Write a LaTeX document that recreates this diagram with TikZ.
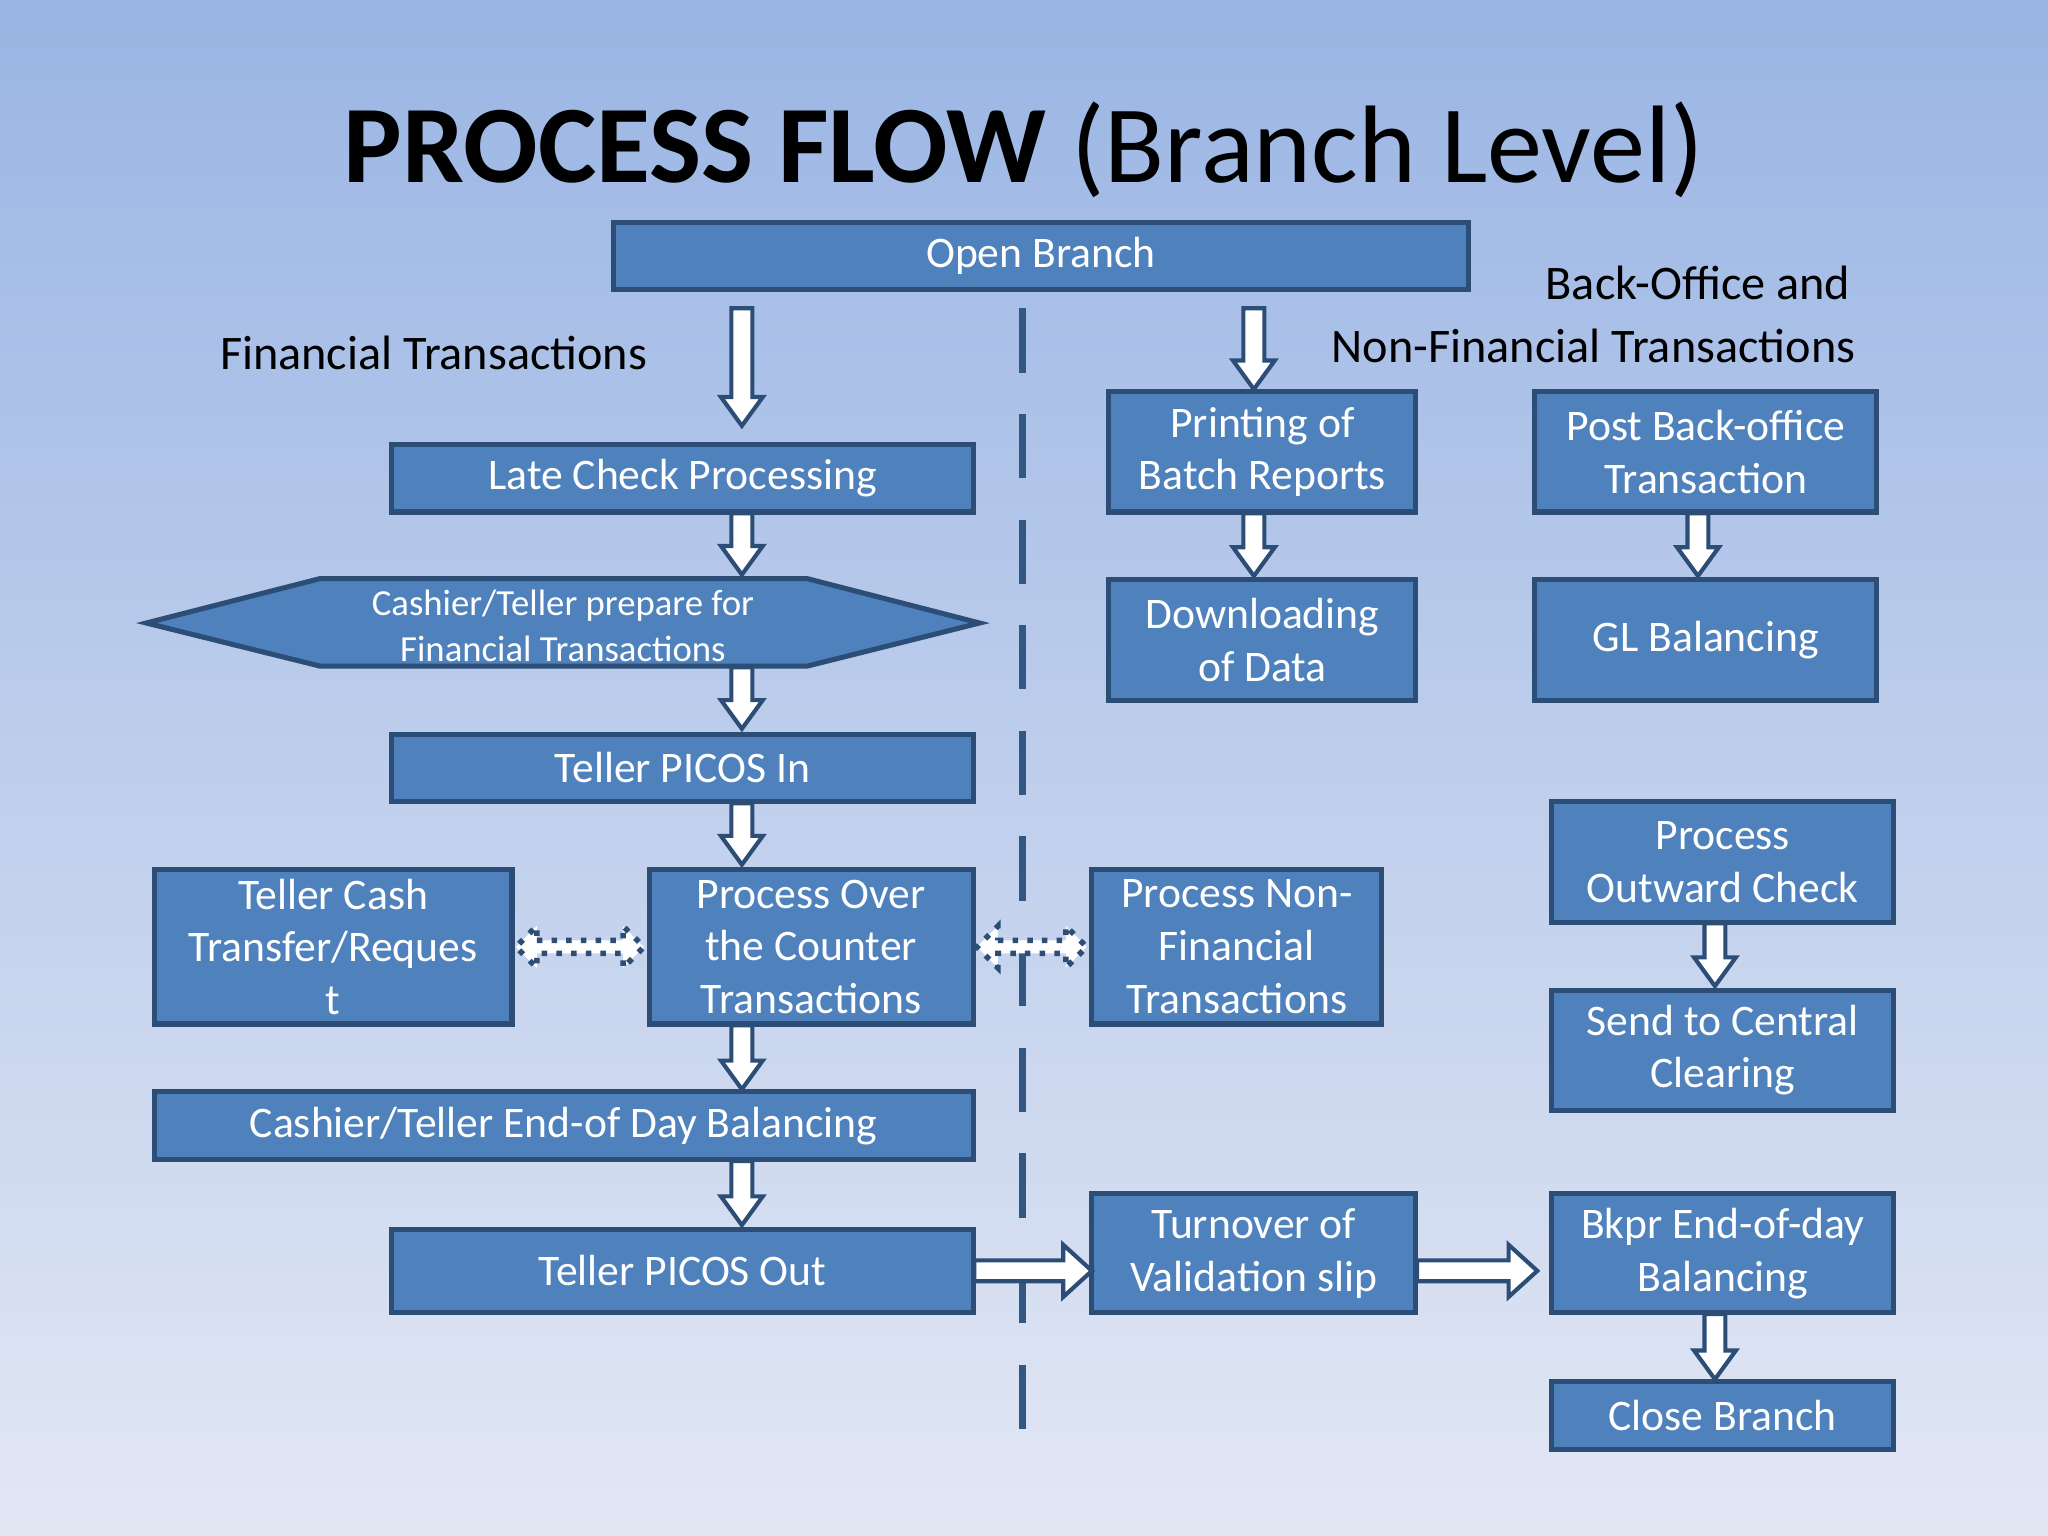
\documentclass[tikz,border=0pt]{standalone}
\usepackage{fontspec}
\setmainfont{Carlito}
\begin{document}
\begin{tikzpicture}[x=0.01cm,y=-0.01cm,
 box/.style={draw=boxedge,fill=boxfill,line width=1.1pt,text=white,align=center,inner sep=0pt,font=\fontsize{9.5}{11.5}\selectfont},
 arr/.style={draw=boxedge,fill=white,line width=0.9pt,line join=miter},
 dotarr/.style={draw=boxedge,fill=white,line width=1.2pt,dotted},
 lbl/.style={font=\fontsize{10.5}{13}\selectfont,align=center}]
\definecolor{boxfill}{HTML}{4F81BD}
\definecolor{boxedge}{HTML}{2C4D75}
\definecolor{bgtop}{HTML}{9AB5E4}
\definecolor{bgbot}{HTML}{E2E7F4}
\shade[top color=bgtop,bottom color=bgbot] (0,0) rectangle (1568,1176);
\useasboundingbox (0,0) rectangle (1568,1176);
\newcommand\boxat[6]{\node[box,minimum width={(#4-#3)*0.01cm},minimum height={(#6-#5)*0.01cm}] (#1) at ({(#3+#4)/2},{(#5+#6)/2}) {#2};}
\newcommand\darr[3]{\draw[arr] ({#1-8},#2) -- ({#1+8},#2) -- ({#1+8},{#3-22}) -- ({#1+16},{#3-22}) -- (#1,#3) -- ({#1-16},{#3-22}) -- ({#1-8},{#3-22}) -- cycle;}
\newcommand\rarr[3]{\draw[arr] (#1,{#3-8}) -- (#1,{#3+8}) -- ({#2-22},{#3+8}) -- ({#2-22},{#3+20}) -- (#2,#3) -- ({#2-22},{#3-20}) -- ({#2-22},{#3-8}) -- cycle;}
\newcommand\dbarr[3]{\draw[dotarr] ({#1+16},{#3-5}) -- ({#2-16},{#3-5}) -- ({#2-16},{#3-16}) -- (#2,#3) -- ({#2-16},{#3+16}) -- ({#2-16},{#3+5}) -- ({#1+16},{#3+5}) -- ({#1+16},{#3+16}) -- (#1,#3) -- ({#1+16},{#3-16}) -- cycle;}
\node[font=\fontsize{24}{28}\selectfont] (title) at (784,115) {\textbf{PROCESS FLOW} (Branch Level)};
\node[lbl] (fin) at (332,270) {Financial Transactions};
\node[lbl] (back) at (1300,217) {Back-Office and};
\node[lbl] (nonfin) at (1220,265) {Non-Financial Transactions};
\draw[boxedge!80!boxfill,line width=1.5pt,dash pattern=on 14pt off 9pt] (783,236) -- (783,1098);
\boxat{open}{Open Branch}{470}{1124}{170}{222}
\boxat{late}{Late Check Processing}{300}{745}{340}{392}
\draw[box] (112,477) -- (245,443) -- (618,443) -- (750,477) -- (618,510) -- (245,510) -- cycle;
\node[text=white,align=center,font=\fontsize{8}{10}\selectfont] (hex) at (431,479) {Cashier/Teller prepare for\\Financial Transactions};
\boxat{picin}{Teller PICOS In}{300}{745}{562}{614}
\boxat{cash}{Teller Cash\\Transfer/Reques\\t}{118}{392}{666}{784}
\boxat{otc}{Process Over\\the Counter\\Transactions}{497}{745}{666}{784}
\boxat{nonf}{Process Non-\\Financial\\Transactions}{836}{1058}{666}{784}
\boxat{eod}{Cashier/Teller End-of Day Balancing}{118}{745}{836}{888}
\boxat{picout}{Teller PICOS Out}{300}{745}{941}{1005}
\boxat{print}{Printing of\\Batch Reports}{849}{1084}{300}{392}
\boxat{down}{Downloading\\of Data}{849}{1084}{444}{536}
\boxat{post}{Post Back-office\\Transaction}{1175}{1437}{300}{392}
\boxat{gl}{GL Balancing}{1175}{1437}{444}{536}
\boxat{outw}{Process\\Outward Check}{1188}{1450}{614}{706}
\boxat{send}{Send to Central\\Clearing}{1188}{1450}{758}{850}
\boxat{turn}{Turnover of\\Validation slip}{836}{1084}{914}{1005}
\boxat{bkpr}{Bkpr End-of-day\\Balancing}{1188}{1450}{914}{1005}
\boxat{close}{Close Branch}{1188}{1450}{1058}{1110}
\darr{568}{236}{326}
\darr{568}{393}{440}
\darr{568}{511}{558}
\darr{568}{615}{662}
\darr{568}{785}{834}
\darr{568}{889}{938}
\darr{960}{236}{298}
\darr{960}{393}{441}
\darr{1300}{393}{441}
\darr{1313}{707}{755}
\darr{1313}{1006}{1056}
\rarr{746}{836}{973}
\rarr{1085}{1177}{973}
\dbarr{395}{493}{725}
\dbarr{748}{832}{725}
\end{tikzpicture}
\end{document}
